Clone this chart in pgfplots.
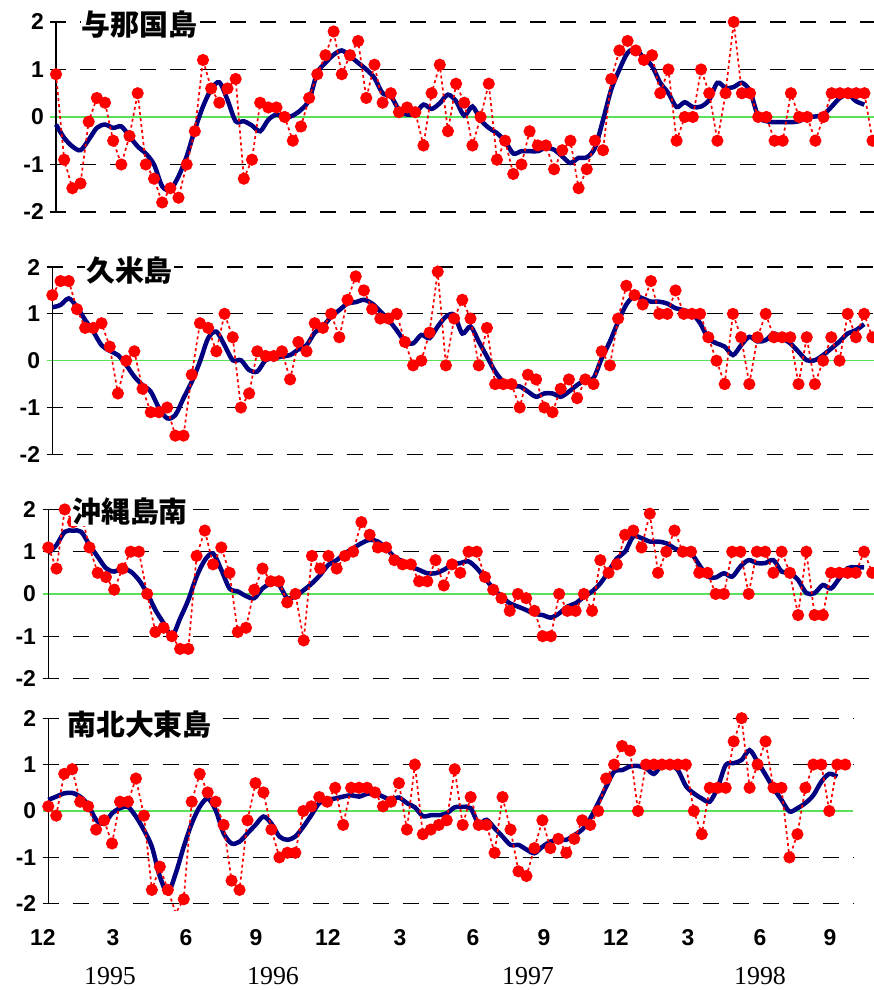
\documentclass[border=0pt]{standalone}
\usepackage{pgfplots}
\usepackage{pgfplotstable}
\pgfplotsset{compat=1.18}
\usepackage{fontspec}
\setmainfont{Liberation Sans}
\newfontfamily\yearfont{Liberation Serif}
\newfontfamily\cjk{Noto Sans CJK JP}

\definecolor{navyb}{RGB}{0,0,128}
\definecolor{zerog}{RGB}{90,225,90}

% columns: i = 10-day step, r = value, b = smoothed
\pgfplotstableread{
i r b
0 0.9 -0.16
1 -0.9 -0.44
2 -1.5 -0.62
3 -1.4 -0.70
4 -0.1 -0.48
5 0.4 -0.23
6 0.3 -0.16
7 -0.5 -0.23
8 -1.0 -0.20
9 -0.4 -0.41
10 0.5 -0.62
11 -1.0 -0.77
12 -1.3 -1.00
13 -1.8 -1.46
14 -1.5 -1.53
15 -1.7 -1.25
16 -1.0 -0.83
17 -0.3 -0.27
18 1.2 0.22
19 0.6 0.58
20 0.3 0.73
21 0.6 0.36
22 0.8 -0.09
23 -1.3 -0.09
24 -0.9 -0.18
25 0.3 -0.30
26 0.2 -0.06
27 0.2 0.05
28 0.0 -0.02
29 -0.5 0.03
30 -0.2 0.15
31 0.4 0.36
32 0.9 0.93
33 1.3 1.14
34 1.8 1.31
35 0.9 1.40
36 1.3 1.28
37 1.6 1.14
38 0.4 1.00
39 1.1 0.82
40 0.3 0.50
41 0.5 0.44
42 0.1 0.15
43 0.2 0.05
44 0.1 0.08
45 -0.6 0.26
46 0.5 0.17
47 1.1 0.29
48 -0.3 0.47
49 0.7 0.33
50 0.3 0.03
51 -0.6 0.22
52 0.0 -0.06
53 0.7 -0.23
54 -0.9 -0.34
55 -0.5 -0.51
56 -1.2 -0.77
57 -1.0 -0.72
58 -0.3 -0.72
59 -0.6 -0.72
60 -0.6 -0.65
61 -1.1 -0.69
62 -0.7 -0.83
63 -0.5 -0.97
64 -1.5 -0.86
65 -1.1 -0.85
66 -0.5 -0.65
67 -0.7 -0.06
68 0.8 0.58
69 1.4 1.00
70 1.6 1.35
71 1.4 1.42
72 1.2 1.24
73 1.3 1.07
74 0.5 0.72
75 1.0 0.50
76 -0.5 0.21
77 0.0 0.31
78 0.0 0.21
79 1.0 0.22
80 0.5 0.36
81 -0.5 0.72
82 0.5 0.61
83 2.0 0.63
84 0.5 0.72
85 0.5 0.54
86 0.0 0.01
87 0.0 -0.09
88 -0.5 -0.11
89 -0.5 -0.11
90 0.5 -0.11
91 0.0 -0.09
92 0.0 0.00
93 -0.5 0.01
94 0.0 0.05
95 0.5 0.22
96 0.5 0.40
97 0.5 0.47
98 0.5 0.33
99 0.5 0.26
100 -0.5 nan
}\yonaguni

\pgfplotstableread{
i r b
0 1.4 1.14
1 1.7 1.19
2 1.7 1.33
3 1.1 1.15
4 0.7 0.87
5 0.7 0.62
6 0.8 0.33
7 0.3 0.21
8 -0.7 0.12
9 0.0 -0.09
10 0.2 -0.34
11 -0.6 -0.52
12 -1.1 -0.66
13 -1.1 -1.01
14 -1.0 -1.23
15 -1.6 -1.16
16 -1.6 -0.80
17 -0.3 -0.45
18 0.8 -0.02
19 0.7 0.48
20 0.2 0.62
21 1.0 0.33
22 0.5 0.01
23 -1.0 0.01
24 -0.7 -0.20
25 0.2 -0.23
26 0.1 0.01
27 0.1 0.05
28 0.2 0.09
29 -0.4 0.12
30 0.4 0.24
31 0.2 0.33
32 0.8 0.60
33 0.7 0.73
34 1.0 0.94
35 0.5 1.08
36 1.3 1.22
37 1.8 1.25
38 1.5 1.30
39 1.1 1.22
40 0.9 1.05
41 0.9 0.87
42 1.0 0.65
43 0.4 0.41
44 -0.1 0.37
45 0.0 0.55
46 0.6 0.48
47 1.9 0.73
48 -0.1 0.94
49 0.9 0.98
50 1.3 0.58
51 0.9 0.73
52 -0.1 0.41
53 0.7 0.09
54 -0.5 -0.23
55 -0.5 -0.45
56 -0.5 -0.55
57 -1.0 -0.55
58 -0.3 -0.66
59 -0.4 -0.77
60 -1.0 -0.70
61 -1.1 -0.70
62 -0.6 -0.77
63 -0.4 -0.66
64 -0.8 -0.52
65 -0.4 -0.41
66 -0.5 -0.37
67 0.2 0.05
68 -0.1 0.41
69 0.9 0.83
70 1.6 1.20
71 1.4 1.38
72 1.2 1.33
73 1.7 1.26
74 1.0 1.26
75 1.0 1.22
76 1.5 1.12
77 1.0 1.08
78 1.0 1.01
79 1.0 0.80
80 0.5 0.48
81 0.0 0.37
82 -0.5 0.30
83 1.0 0.12
84 0.5 0.33
85 -0.5 0.51
86 0.5 0.41
87 1.0 0.44
88 0.5 0.58
89 0.5 0.48
90 0.5 0.37
91 -0.5 0.19
92 0.5 0.01
93 -0.5 0.01
94 0.0 0.12
95 0.5 0.26
96 0.0 0.41
97 1.0 0.58
98 0.5 0.65
99 1.0 0.78
100 0.5 nan
}\kume

\pgfplotstableread{
i r b
0 1.1 0.96
1 0.6 1.16
2 2.0 1.47
3 1.7 1.50
4 1.9 1.47
5 1.1 1.16
6 0.5 0.88
7 0.4 0.61
8 0.1 0.53
9 0.6 0.61
10 1.0 0.53
11 1.0 0.33
12 0.0 0.02
13 -0.9 -0.38
14 -0.8 -0.69
15 -1.0 -1.00
16 -1.3 -0.58
17 -1.3 -0.14
18 0.9 0.41
19 1.5 0.80
20 0.7 0.96
21 1.1 0.57
22 0.5 0.13
23 -0.9 0.06
24 -0.8 -0.05
25 0.1 -0.10
26 0.6 0.13
27 0.3 0.24
28 0.3 0.21
29 -0.2 -0.10
30 0.0 -0.05
31 -1.1 0.09
32 0.9 0.25
33 0.6 0.45
34 0.9 0.69
35 0.6 0.80
36 0.9 0.96
37 1.0 1.08
38 1.7 1.20
39 1.4 1.28
40 1.1 1.24
41 1.1 1.08
42 0.8 0.88
43 0.7 0.77
44 0.7 0.65
45 0.3 0.57
46 0.3 0.49
47 0.8 0.49
48 0.2 0.57
49 0.7 0.69
50 0.5 0.73
51 1.0 0.77
52 1.0 0.61
53 0.4 0.37
54 0.1 0.13
55 -0.1 -0.06
56 -0.4 -0.22
57 0.0 -0.30
58 -0.1 -0.38
59 -0.4 -0.47
60 -1.0 -0.50
61 -1.0 -0.56
62 0.0 -0.46
63 -0.4 -0.30
64 -0.4 -0.22
65 0.0 -0.07
66 -0.4 0.06
67 0.8 0.25
68 0.5 0.53
69 0.7 0.84
70 1.4 1.00
71 1.5 1.36
72 1.1 1.32
73 1.9 1.24
74 0.5 1.24
75 1.0 1.20
76 1.5 1.08
77 1.0 1.00
78 1.0 0.96
79 0.5 0.69
80 0.5 0.41
81 0.0 0.39
82 0.0 0.49
83 1.0 0.41
84 1.0 0.65
85 0.0 0.80
86 1.0 0.73
87 1.0 0.73
88 0.5 0.80
89 1.0 0.53
90 0.5 0.49
91 -0.5 0.33
92 1.0 0.02
93 -0.5 0.02
94 -0.5 0.21
95 0.5 0.13
96 0.5 0.37
97 0.5 0.61
98 0.5 0.63
99 1.0 0.63
100 0.5 nan
}\okinawa

\pgfplotstableread{
i r b
0 0.1 0.24
1 -0.1 0.31
2 0.8 0.38
3 0.9 0.39
4 0.2 0.31
5 0.1 0.13
6 -0.4 -0.19
7 -0.2 -0.27
8 -0.7 -0.05
9 0.2 0.06
10 0.2 0.09
11 0.7 -0.12
12 -0.1 -0.41
13 -1.7 -0.77
14 -1.2 -1.41
15 -1.7 -1.76
16 -2.2 -1.34
17 -1.9 -0.77
18 0.2 -0.27
19 0.8 0.09
20 0.4 0.27
21 0.2 0.02
22 -0.3 -0.48
23 -1.5 -0.70
24 -1.7 -0.66
25 -0.2 -0.48
26 0.6 -0.30
27 0.4 -0.12
28 -0.4 -0.27
29 -1.0 -0.55
30 -0.9 -0.62
31 -0.9 -0.55
32 0.0 -0.34
33 0.1 -0.09
34 0.3 0.17
35 0.2 0.24
36 0.5 0.27
37 -0.3 0.31
38 0.5 0.34
39 0.5 0.31
40 0.5 0.37
41 0.4 0.38
42 0.1 0.31
43 0.2 0.24
44 0.6 0.29
45 -0.4 0.17
46 1.0 0.08
47 -0.5 -0.11
48 -0.4 -0.09
49 -0.3 -0.09
50 -0.2 -0.05
51 0.9 0.08
52 -0.3 0.09
53 0.3 0.06
54 -0.3 -0.27
55 -0.3 -0.19
56 -0.9 -0.37
57 0.3 -0.55
58 -0.4 -0.73
59 -1.3 -0.73
60 -1.4 -0.83
61 -0.8 -0.91
62 -0.2 -0.77
63 -0.8 -0.66
64 -0.6 -0.62
65 -0.9 -0.62
66 -0.6 -0.52
67 -0.2 -0.40
68 -0.3 -0.16
69 0.0 0.17
70 0.7 0.52
71 1.0 0.85
72 1.4 0.88
73 1.3 0.96
74 0.0 0.97
75 1.0 0.92
76 1.0 0.80
77 1.0 0.99
78 1.0 0.99
79 1.0 0.88
80 1.0 0.54
81 0.0 0.38
82 -0.5 0.27
83 0.5 0.20
84 0.5 0.51
85 0.5 0.99
86 1.5 1.03
87 2.0 1.10
88 0.5 1.31
89 1.0 1.06
90 1.5 0.78
91 0.5 0.49
92 0.5 0.24
93 -1.0 -0.01
94 -0.5 0.06
95 0.5 0.17
96 1.0 0.34
97 1.0 0.63
98 0.0 0.80
99 1.0 0.74
100 1.0 nan
}\daito

\pgfplotsset{
  panel/.style={
    scale only axis, anchor=south west,
    xmin=-0.7, xmax=101, ymin=-2.15, ymax=2.15,
    axis line style={draw=none},
    major tick length=0pt,
    xtick=\empty,
    ytick={-2,-1,1,2}, yticklabels={-2,-1,1,2},
    extra y ticks={0}, extra y tick labels={0},
    extra y tick style={major grid style={draw=zerog, solid, line width=1.5bp}},
    ymajorgrids,
    major grid style={black, line width=1.1bp, dash pattern=on 16bp off 14bp},
    tick label style={font=\fontsize{23}{23}\selectfont\bfseries},
    yticklabel style={xshift=-3bp},
    clip=true,
  },
  smoothline/.style={navyb, line width=4.5bp, smooth},
  obs/.style={red, line width=1.7bp, dash pattern=on 3bp off 3bp,
    mark=*, mark size=5.2bp, mark options={solid, fill=red, draw=red}},
}

\begin{document}
\begin{tikzpicture}
\path[use as bounding box] (0,0) rectangle (874bp,990bp);

\begin{axis}[panel, at={(50.3bp,770.9bp)}, width=830.4bp, height=204.25bp]
  \draw[black, line width=1.3bp] (axis cs:0,-2) -- (axis cs:0,2);
  \addplot[smoothline] table[x=i, y=b] {\yonaguni};
  \addplot[obs] table[x=i, y=r] {\yonaguni};
\end{axis}

\begin{axis}[panel, at={(46.6bp,528.6bp)}, width=833.9bp, height=201.4bp]
  \draw[black, line width=1.3bp] (axis cs:0,-2) -- (axis cs:0,2);
  \addplot[smoothline] table[x=i, y=b] {\kume};
  \addplot[obs] table[x=i, y=r] {\kume};
\end{axis}

\begin{axis}[panel, at={(42.5bp,305.2bp)}, width=838bp, height=181.7bp]
  \draw[black, line width=1.3bp] (axis cs:0,-2) -- (axis cs:0,2);
  \addplot[smoothline] table[x=i, y=b] {\okinawa};
  \addplot[obs] table[x=i, y=r] {\okinawa};
\end{axis}

\begin{axis}[panel, at={(42.7bp,79.2bp)}, width=810.5bp, height=199.6bp,
  xtick={-0.69,8.11,17.28,26.06,35.09,44.13,53.29,62.19,71.22,80.26,89.29,98.08},
  xticklabels={12,3,6,9,12,3,6,9,12,3,6,9},
  xticklabel style={yshift=-15bp}]
  \draw[black, line width=1.3bp] (axis cs:0,-2) -- (axis cs:0,2);
  \addplot[smoothline] table[x=i, y=b] {\daito};
  \addplot[obs] table[x=i, y=r] {\daito};
\end{axis}

\begin{scope}[every node/.style={fill=white, inner sep=1bp,
    font=\cjk\bfseries\fontsize{29}{29}\selectfont}]
  \node at (139.5bp,965bp) {与那国島};
  \node at (129.5bp,719.5bp) {久米島};
  \node at (130bp,479bp) {沖縄島南};
  \node at (139.5bp,265.5bp) {南北大東島};
\end{scope}

\begin{scope}[every node/.style={font=\yearfont\fontsize{26}{26}\selectfont}]
  \node at (110bp,14bp) {1995};
  \node at (273bp,14bp) {1996};
  \node at (528bp,14bp) {1997};
  \node at (760bp,14bp) {1998};
\end{scope}
\end{tikzpicture}
\end{document}
